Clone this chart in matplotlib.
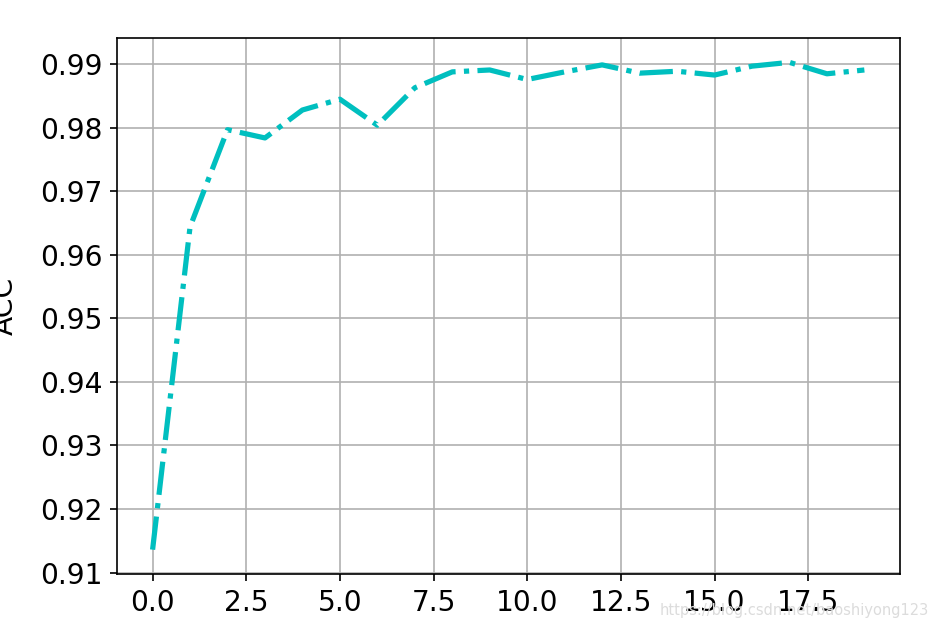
import matplotlib
matplotlib.use("Agg")
import matplotlib.pyplot as plt

epochs = list(range(20))
acc = [0.9136, 0.9644, 0.9797, 0.9784, 0.9828, 0.9845, 0.9804, 0.9863, 0.9888, 0.9891,
       0.9876, 0.9888, 0.9899, 0.9886, 0.9889, 0.9883, 0.9897, 0.9903, 0.9885, 0.9891]

fig = plt.figure(figsize=(6.24, 4.2067), dpi=150)
ax = fig.add_axes([0.125, 0.0903, 0.8365, 0.8495])
ax.plot(epochs, acc, color='c', linestyle='-.', linewidth=2.5)
ax.set_ylabel('ACC', fontsize=13.5)
ax.yaxis.set_label_coords(-0.126, 0.5)
ax.tick_params(labelsize=13.5)
ax.grid(True)
fig.text(0.992, 0.02, 'https://blog.csdn.net/baoshiyong123', ha='right', va='bottom',
         fontsize=7, color='#dcdcdc')
fig.savefig('out.png', dpi=150)
